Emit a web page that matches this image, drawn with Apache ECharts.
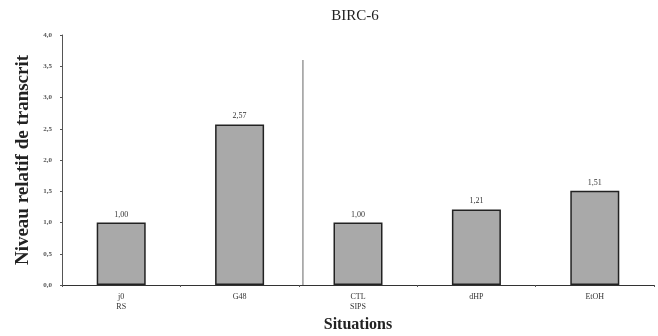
<!DOCTYPE html>
<html>
<head>
<meta charset="utf-8">
<script src="https://cdn.jsdelivr.net/npm/echarts@6/dist/echarts.min.js"></script>
<style>
  html, body { margin: 0; padding: 0; background: #fff; }
  #chart { width: 658px; height: 336px; }
</style>
</head>
<body>
<div id="chart"></div>
<script>
var categories = ['j0\nRS', 'G48', 'CTL\nSIPS', 'dHP', 'EtOH'];
var values = [1.00, 2.57, 1.00, 1.21, 1.51];
var yTicks = [0, 0.5, 1, 1.5, 2, 2.5, 3, 3.5, 4];
// separator between the two groups, on a hidden 0..5 value axis
var separator = [[2.035, 0], [2.035, 3.6]];

var serif = '"Liberation Serif", "DejaVu Serif", serif';
function comma(v, d) { return v.toFixed(d).replace('.', ','); }

var chart = echarts.init(document.getElementById('chart'));
chart.setOption({
    backgroundColor: '#fff',
    animation: false,
    title: {
        text: 'BIRC-6',
        left: 350, top: 4, textAlign: 'center',
        textStyle: { fontFamily: serif, fontSize: 15, fontWeight: 'normal', color: '#222' }
    },
    grid: { left: 62, right: 4, top: 35, bottom: 51, outerBoundsMode: 'none', containLabel: false },
    xAxis: [{
        type: 'category',
        data: categories,
        axisLine: { lineStyle: { color: '#333', width: 1 } },
        axisTick: { show: true, alignWithLabel: false, length: 2, lineStyle: { color: '#555' } },
        axisLabel: { fontFamily: serif, fontSize: 8, color: '#333', margin: 7, lineHeight: 10 },
        name: 'Situations',
        nameLocation: 'middle',
        nameGap: 32,
        nameTextStyle: { fontFamily: serif, fontSize: 16, fontWeight: 'bold', color: '#222' }
    }, {
        type: 'value', min: 0, max: 5, show: false
    }],
    yAxis: {
        type: 'value',
        min: 0, max: 4, interval: 0.5,
        axisLine: { show: true, lineStyle: { color: '#555' } },
        axisTick: { show: true, length: 2, lineStyle: { color: '#555' } },
        splitLine: { show: false },
        axisLabel: {
            fontFamily: serif, fontSize: 7, fontWeight: 'bold', color: '#555', margin: 10,
            formatter: function (v) { return yTicks.indexOf(v) >= 0 ? comma(v, 1) : ''; }
        },
        name: 'Niveau relatif de transcrit',
        nameLocation: 'middle',
        nameGap: 29,
        nameTextStyle: { fontFamily: serif, fontSize: 19, fontWeight: 'bold', color: '#222' }
    },
    series: [{
        type: 'bar',
        data: values,
        barWidth: 49,
        itemStyle: { color: '#a9a9a9', borderColor: '#222', borderWidth: 1.5 },
        label: {
            show: true, position: 'top', distance: 4,
            fontFamily: serif, fontSize: 8, color: '#333',
            formatter: function (p) { return comma(p.value, 2); }
        }
    }, {
        type: 'line',
        xAxisIndex: 1,
        data: separator,
        symbol: 'none',
        lineStyle: { color: '#666', width: 1 },
        silent: true
    }]
});
</script>
</body>
</html>
